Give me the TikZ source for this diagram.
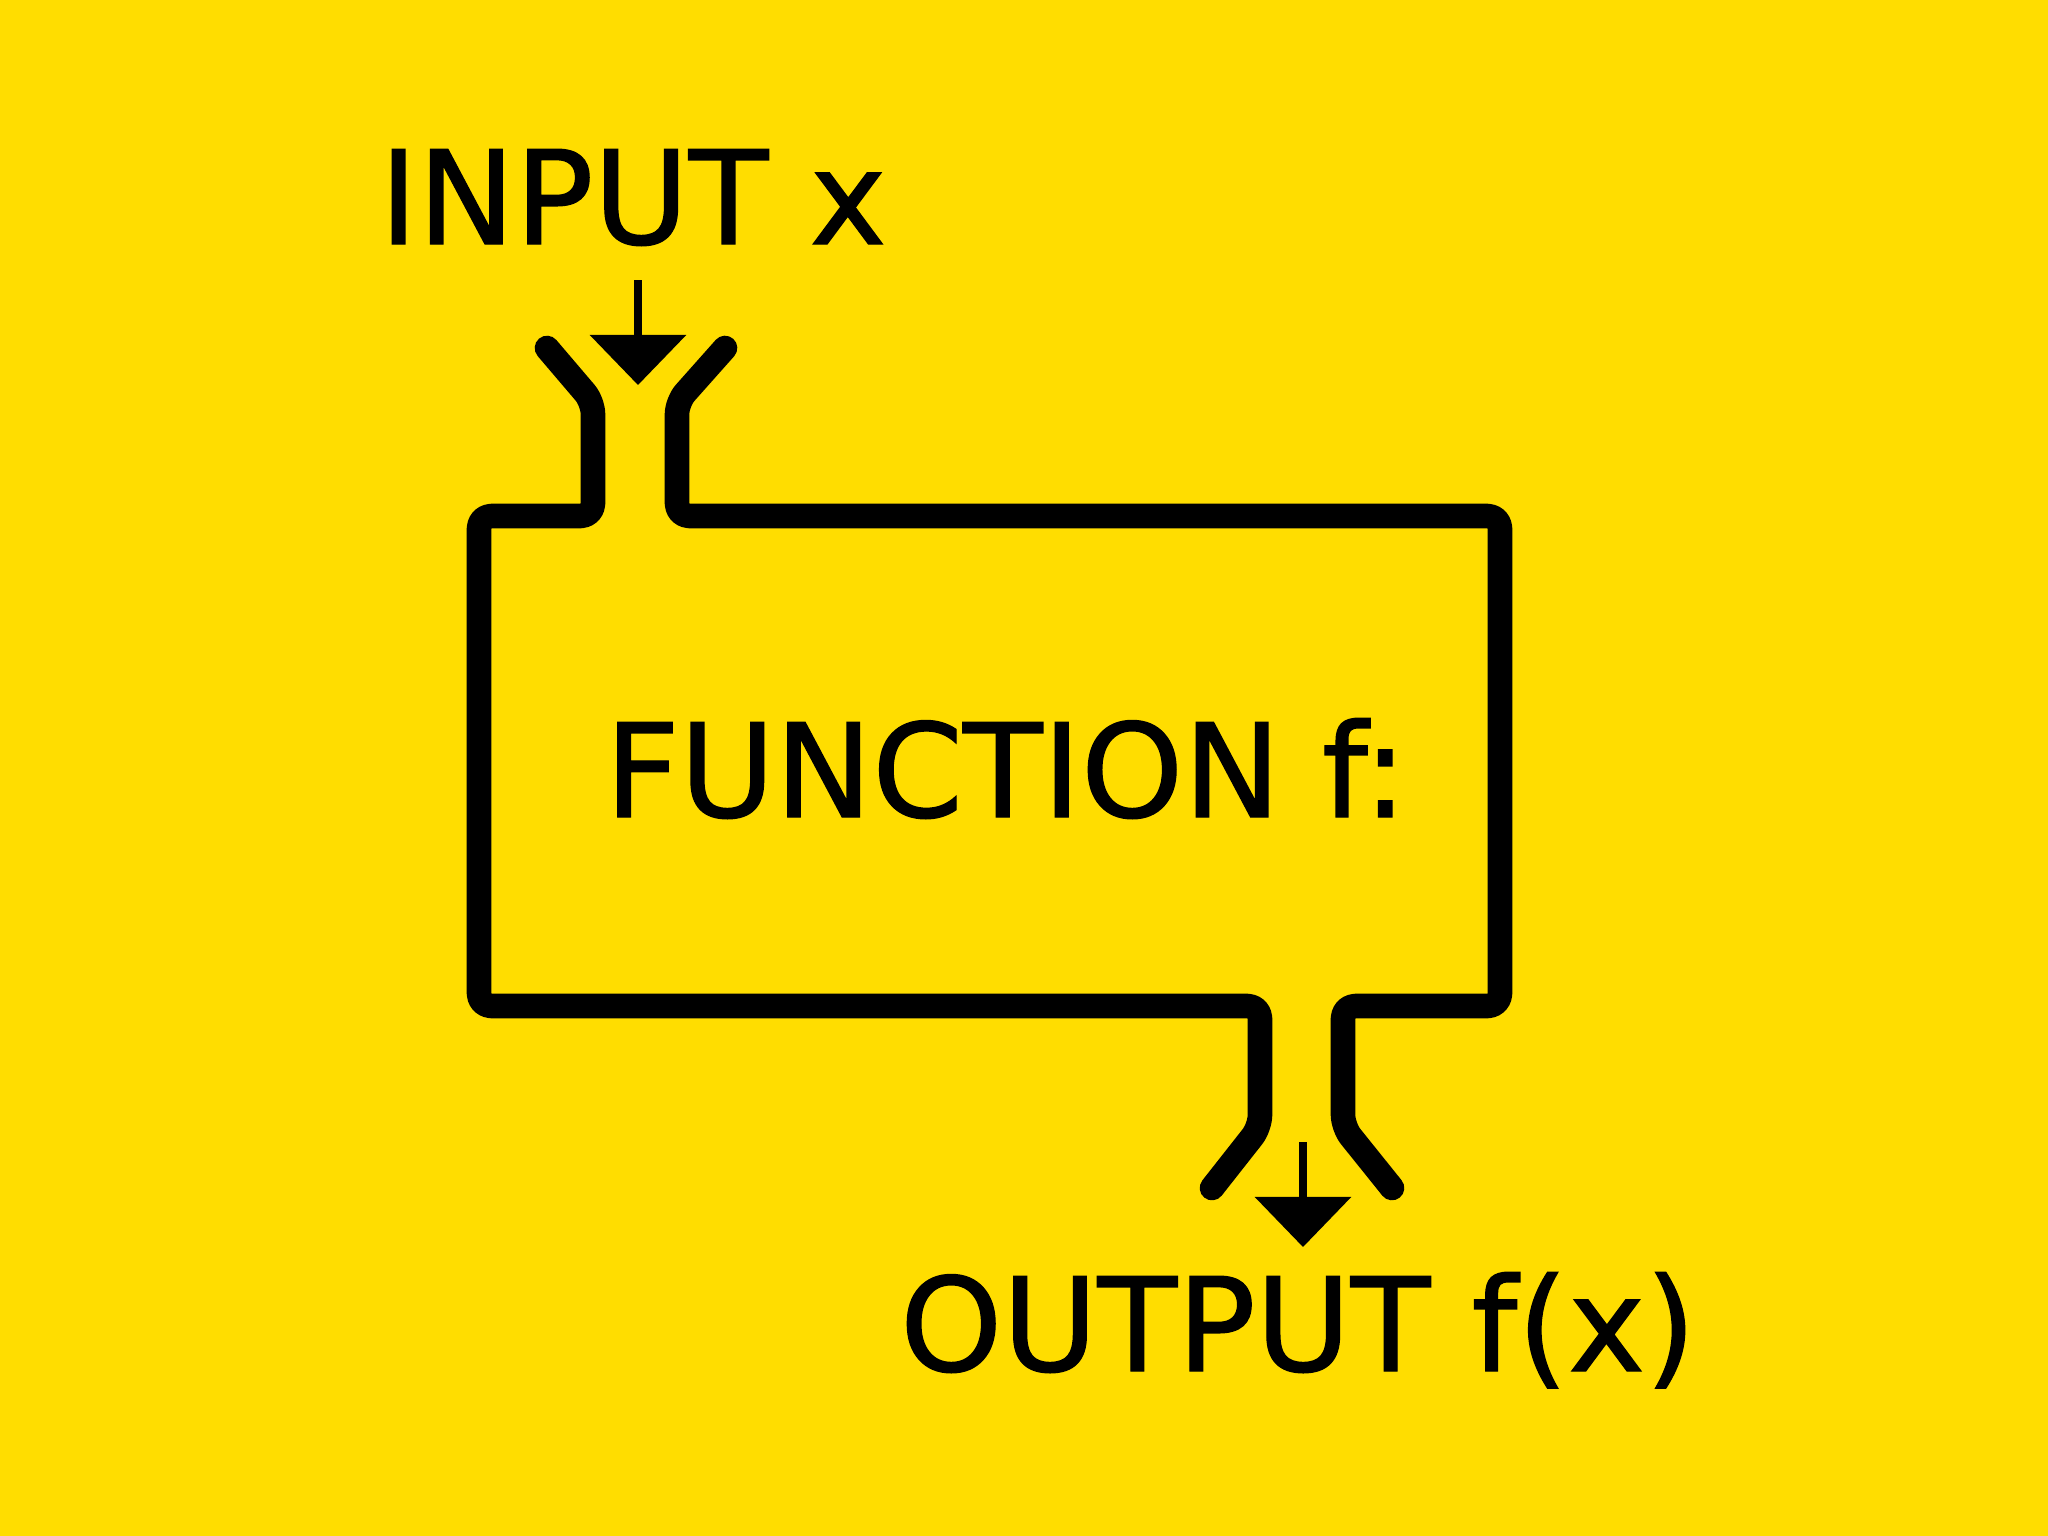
\documentclass[tikz,border=0pt]{standalone}
\usepackage{fontspec}
\setmainfont[FakeBold=1]{DejaVu Sans}
\usetikzlibrary{arrows.meta}
\definecolor{signyellow}{RGB}{255,221,0}

\begin{document}
\begin{tikzpicture}[x=0.01cm, y=-0.01cm,
    pipe/.style={line width=7pt, line cap=round, line join=round, rounded corners=3.5pt},
    flow/.style={line width=2pt, -{Triangle[length=0.5cm, width=0.95cm]}},
    bigtext/.style={inner sep=0pt, anchor=base, font=\fontsize{37}{44}\selectfont}]
    \fill[signyellow] (0,0) rectangle (2048,1536);
    \useasboundingbox (0,0) rectangle (2048,1536);

    \node[bigtext] (input) at (633, 244) {INPUT x};
    \node[bigtext] (func) at (1006, 817) {FUNCTION f:};
    \node[bigtext] (output) at (1298, 1371) {OUTPUT f(x)};

    \coordinate (in tail) at (638, 280);
    \coordinate (in tip) at (638, 385);
    \coordinate (out tail) at (1303, 1142);
    \coordinate (out tip) at (1303, 1247);

    % the machine with its two funnels
    \draw[pipe] (547,348) -- (593,402) -- (593,516) -- (479,516) -- (479,1006)
        -- (1260,1006) -- (1260,1127) -- (1212,1188);
    \draw[pipe] (725,348) -- (677,402) -- (677,516) -- (1500,516) -- (1500,1006)
        -- (1343,1006) -- (1343,1127) -- (1392,1188);

    \draw[flow] (in tail) -- (in tip);
    \draw[flow] (out tail) -- (out tip);
\end{tikzpicture}
\end{document}
